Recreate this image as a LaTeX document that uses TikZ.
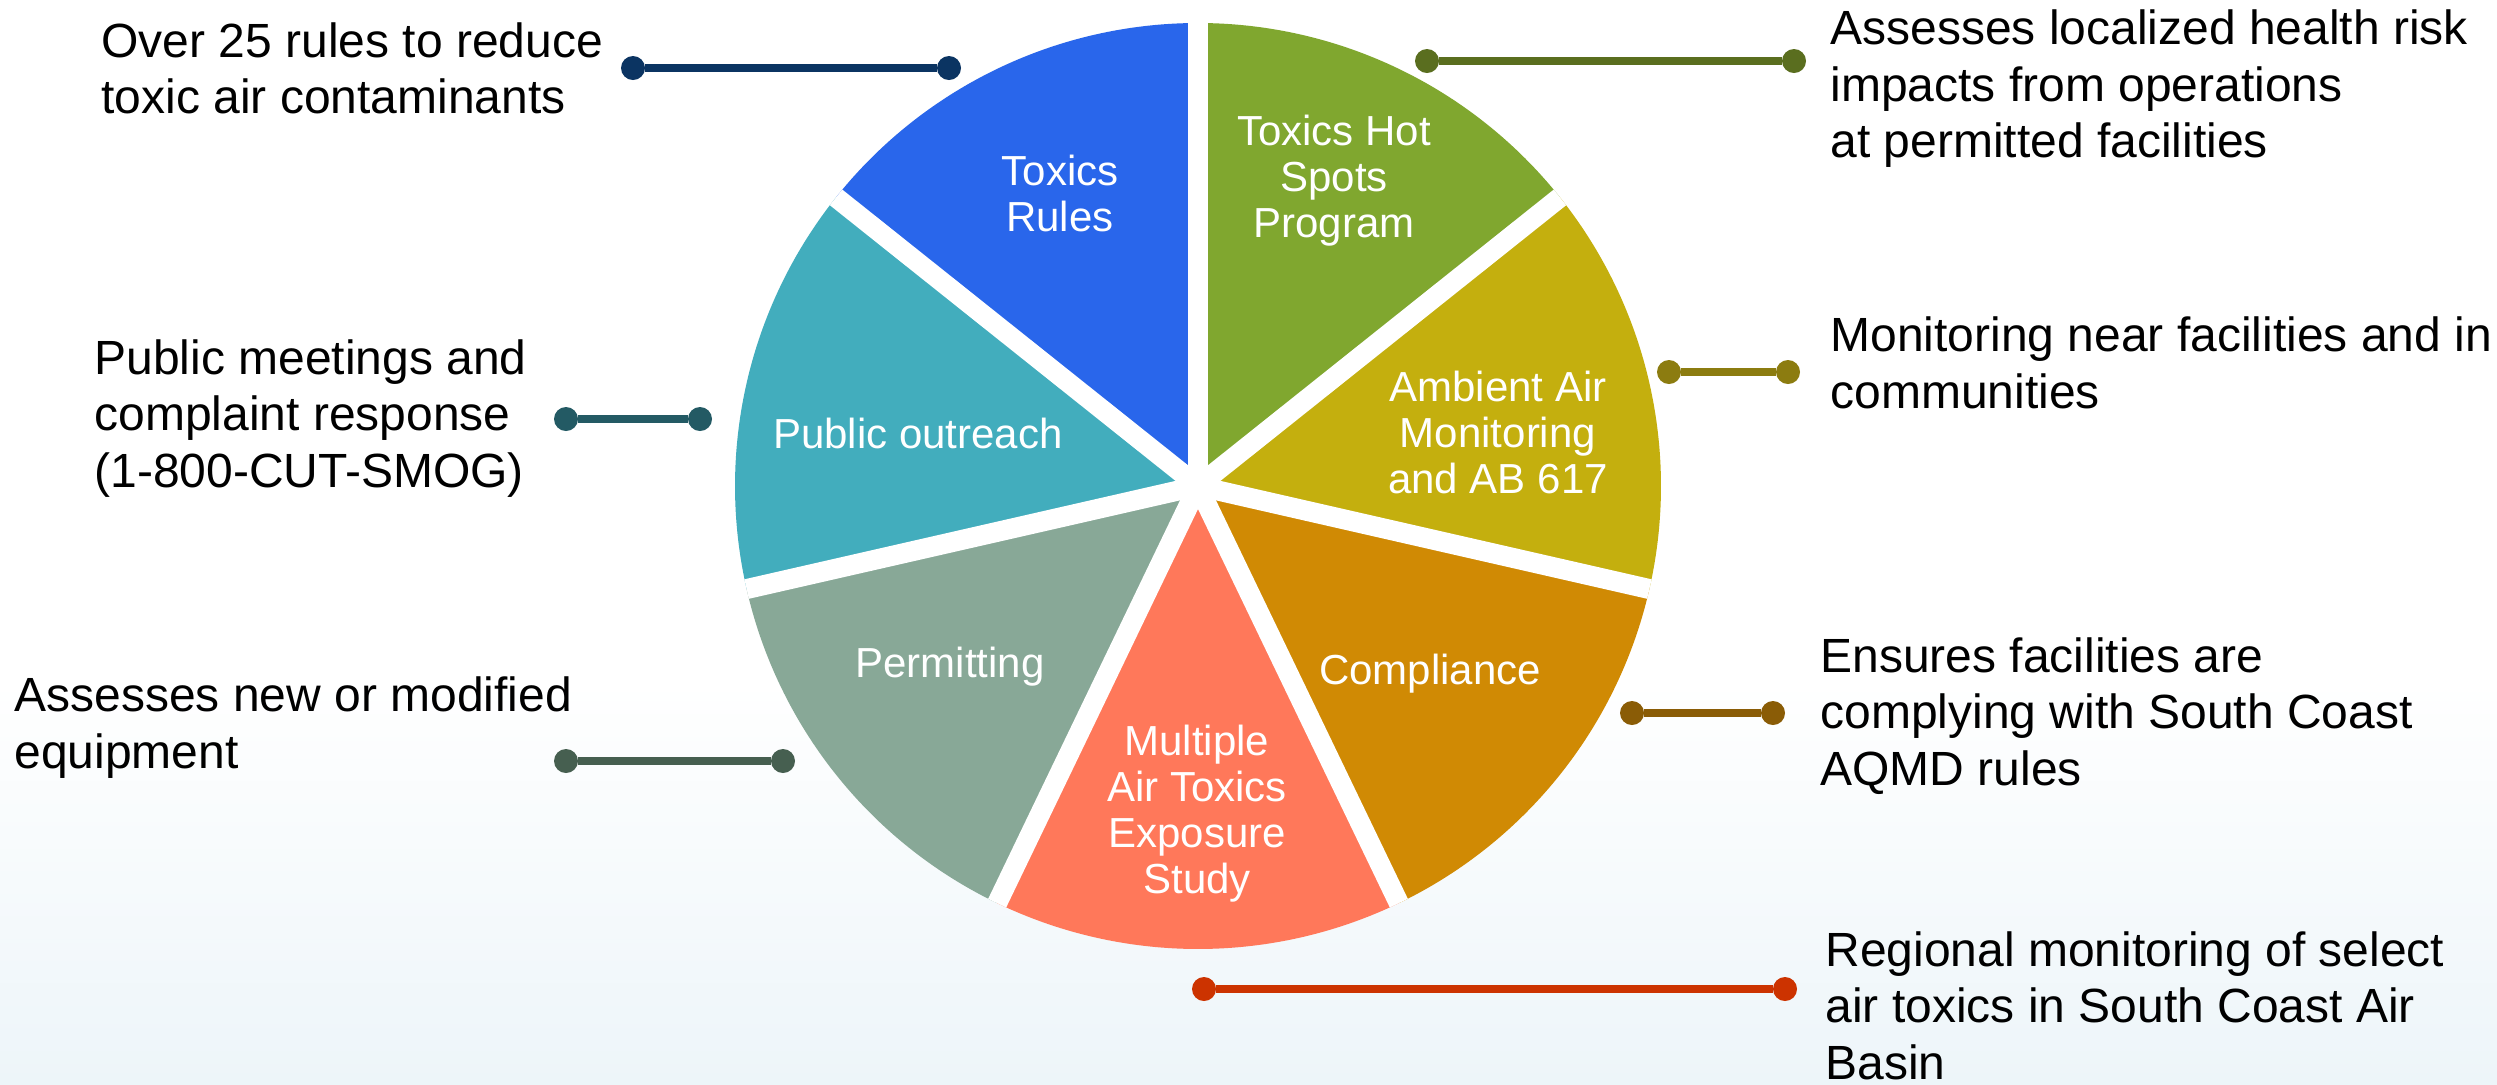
\documentclass[tikz,border=0pt]{standalone}
\usepackage{fontspec}
\setmainfont{Liberation Sans}
\definecolor{cBlue}{HTML}{2966EB}
\definecolor{cGreen}{HTML}{80A72F}
\definecolor{cYellow}{HTML}{C4AF0E}
\definecolor{cOrange}{HTML}{D08A04}
\definecolor{cCoral}{HTML}{FF785A}
\definecolor{cSage}{HTML}{88A897}
\definecolor{cTeal}{HTML}{42ADBD}
\definecolor{lNavy}{HTML}{0B3462}
\definecolor{lTeal}{HTML}{235A64}
\definecolor{lGray}{HTML}{465F50}
\definecolor{lOlive}{HTML}{5A6E1F}
\definecolor{lOliveY}{HTML}{8C7C10}
\definecolor{lBrown}{HTML}{8A5C06}
\definecolor{lRed}{HTML}{CC3300}
\definecolor{bgBlue}{HTML}{EDF5F9}
\tikzset{
  callout/.style={anchor=base west, inner sep=0pt, align=left, text=black,
    font=\fontsize{24}{28.25}\selectfont},
  slicelabel/.style={anchor=base, inner sep=0pt, align=center, text=white,
    font=\fontsize{21}{23}\selectfont},
  dotend/.style={circle, inner sep=0pt, minimum size=12pt},
  conn/.style={line width=3.65pt},
  sepline/.style={white, line width=10pt}
}
\begin{document}
\begin{tikzpicture}[x=0.5pt, y=-0.5pt]
\useasboundingbox (0,0) rectangle (2497,1084);
\fill[white] (0,0) rectangle (2497,1084);
\shade[top color=white, bottom color=bgBlue] (0,680) rectangle (2497,1084);

% pie
\begin{scope}[x=0.5pt, y=0.5pt, shift={(599pt,-243pt)}]
  \fill[cBlue]   (0,0) -- (90:463)     arc[start angle=90,     end angle=141.43, radius=463] -- cycle;
  \fill[cTeal]   (0,0) -- (141.43:463) arc[start angle=141.43, end angle=192.86, radius=463] -- cycle;
  \fill[cSage]   (0,0) -- (192.86:463) arc[start angle=192.86, end angle=244.29, radius=463] -- cycle;
  \fill[cCoral]  (0,0) -- (244.29:463) arc[start angle=244.29, end angle=295.71, radius=463] -- cycle;
  \fill[cOrange] (0,0) -- (295.71:463) arc[start angle=295.71, end angle=347.14, radius=463] -- cycle;
  \fill[cYellow] (0,0) -- (347.14:463) arc[start angle=347.14, end angle=398.57, radius=463] -- cycle;
  \fill[cGreen]  (0,0) -- (398.57:463) arc[start angle=398.57, end angle=450,    radius=463] -- cycle;
  \foreach \a in {90,141.43,192.86,244.29,295.71,347.14,398.57}
    \draw[sepline] (0,0) -- (\a:463);
\end{scope}

% slice labels (anchor = baseline of last line)
\node[slicelabel] (sRules) at (1060,231) {Toxics\\Rules};
\node[slicelabel] (sHot) at (1334,237) {Toxics Hot\\Spots\\Program};
\node[slicelabel] (sOut) at (918,448) {Public outreach};
\node[slicelabel] (sAmb) at (1498,493) {Ambient Air\\Monitoring\\and AB 617};
\node[slicelabel] (sPerm) at (950,677) {Permitting};
\node[slicelabel] (sComp) at (1430,684) {Compliance};
\node[slicelabel] (sMult) at (1197,893) {Multiple\\Air Toxics\\Exposure\\Study};

% callout texts (anchor = baseline of last line)
\node[callout] (tRules) at (101,113.5) {Over 25 rules to reduce\\toxic air contaminants};
\node[callout] (tOut) at (94,487) {Public meetings and\\complaint response\\(1-800-CUT-SMOG)};
\node[callout] (tPerm) at (14,768) {Assesses new or modified\\equipment};
\node[callout] (tHot) at (1830,157.5) {Assesses localized health risk\\impacts from operations\\at permitted facilities};
\node[callout] (tAmb) at (1830,408) {Monitoring near facilities and in\\communities};
\node[callout] (tComp) at (1820,785) {Ensures facilities are\\complying with South Coast\\AQMD rules};
\node[callout] (tMult) at (1825,1079) {Regional monitoring of select\\air toxics in South Coast Air\\Basin};

% connectors
\node[dotend, fill=lNavy] (c1a) at (633,68) {};
\node[dotend, fill=lNavy] (c1b) at (949,68) {};
\draw[conn, lNavy] (c1a) -- (c1b);
\node[dotend, fill=lTeal] (c2a) at (566,419) {};
\node[dotend, fill=lTeal] (c2b) at (700,419) {};
\draw[conn, lTeal] (c2a) -- (c2b);
\node[dotend, fill=lGray] (c3a) at (566,761) {};
\node[dotend, fill=lGray] (c3b) at (783,761) {};
\draw[conn, lGray] (c3a) -- (c3b);
\node[dotend, fill=lOlive] (c4a) at (1427,61) {};
\node[dotend, fill=lOlive] (c4b) at (1794,61) {};
\draw[conn, lOlive] (c4a) -- (c4b);
\node[dotend, fill=lOliveY] (c5a) at (1669,372) {};
\node[dotend, fill=lOliveY] (c5b) at (1788,372) {};
\draw[conn, lOliveY] (c5a) -- (c5b);
\node[dotend, fill=lBrown] (c6a) at (1632,713) {};
\node[dotend, fill=lBrown] (c6b) at (1773,713) {};
\draw[conn, lBrown] (c6a) -- (c6b);
\node[dotend, fill=lRed] (c7a) at (1204,989) {};
\node[dotend, fill=lRed] (c7b) at (1785,989) {};
\draw[conn, lRed] (c7a) -- (c7b);
\end{tikzpicture}
\end{document}
